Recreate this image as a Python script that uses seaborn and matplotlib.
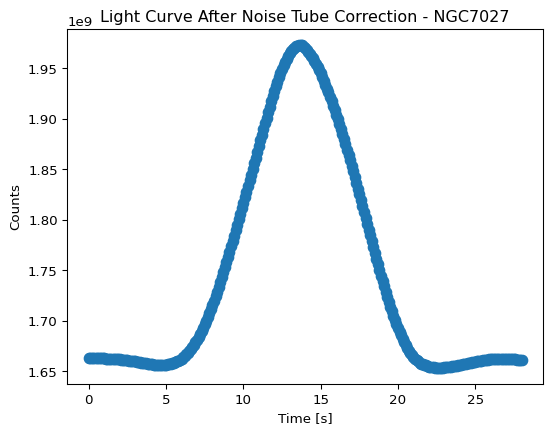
import numpy as np
import seaborn as sns
import matplotlib.pyplot as plt
import pandas as pd

# counts, one sample every 0.1 s (units of 1e9)
sample_step_s = 0.1
counts_1e9 = [
    1.6626, 1.6626, 1.6627, 1.6627, 1.6627, 1.6627, 1.6627, 1.6627, 1.6626, 1.6626,
    1.6626, 1.6625, 1.6625, 1.6624, 1.6623, 1.6622, 1.6621, 1.6620, 1.6619, 1.6618,
    1.6616, 1.6615, 1.6613, 1.6611, 1.6609, 1.6607, 1.6605, 1.6603, 1.6601, 1.6598,
    1.6596, 1.6593, 1.6591, 1.6588, 1.6585, 1.6582, 1.6579, 1.6577, 1.6574, 1.6571,
    1.6569, 1.6567, 1.6565, 1.6564, 1.6563, 1.6562, 1.6561, 1.6561, 1.6561, 1.6562,
    1.6564, 1.6566, 1.6569, 1.6573, 1.6577, 1.6582, 1.6589, 1.6597, 1.6605, 1.6615,
    1.6625, 1.6638, 1.6651, 1.6666, 1.6682, 1.6700, 1.6719, 1.6740, 1.6762, 1.6785,
    1.6810, 1.6838, 1.6867, 1.6898, 1.6930, 1.6965, 1.7001, 1.7038, 1.7076, 1.7115,
    1.7155, 1.7198, 1.7242, 1.7287, 1.7333, 1.7380, 1.7429, 1.7478, 1.7528, 1.7579,
    1.7630, 1.7683, 1.7736, 1.7789, 1.7842, 1.7895, 1.7949, 1.8003, 1.8057, 1.8111,
    1.8165, 1.8221, 1.8277, 1.8333, 1.8389, 1.8445, 1.8502, 1.8559, 1.8616, 1.8673,
    1.8730, 1.8787, 1.8843, 1.8899, 1.8955, 1.9010, 1.9064, 1.9118, 1.9171, 1.9223,
    1.9275, 1.9322, 1.9368, 1.9412, 1.9454, 1.9495, 1.9530, 1.9563, 1.9593, 1.9623,
    1.9650, 1.9672, 1.9690, 1.9705, 1.9716, 1.9725, 1.9729, 1.9730, 1.9727, 1.9712,
    1.9700, 1.9684, 1.9665, 1.9645, 1.9623, 1.9600, 1.9573, 1.9545, 1.9515, 1.9483,
    1.9450, 1.9413, 1.9376, 1.9338, 1.9299, 1.9260, 1.9217, 1.9174, 1.9130, 1.9085,
    1.9040, 1.8993, 1.8945, 1.8897, 1.8849, 1.8800, 1.8748, 1.8695, 1.8642, 1.8589,
    1.8535, 1.8478, 1.8421, 1.8364, 1.8307, 1.8250, 1.8192, 1.8134, 1.8076, 1.8018,
    1.7960, 1.7902, 1.7844, 1.7786, 1.7728, 1.7670, 1.7614, 1.7558, 1.7502, 1.7446,
    1.7390, 1.7339, 1.7288, 1.7238, 1.7189, 1.7140, 1.7095, 1.7051, 1.7008, 1.6966,
    1.6925, 1.6889, 1.6854, 1.6820, 1.6787, 1.6755, 1.6728, 1.6702, 1.6679, 1.6658,
    1.6640, 1.6624, 1.6610, 1.6597, 1.6585, 1.6575, 1.6568, 1.6562, 1.6556, 1.6550,
    1.6545, 1.6542, 1.6540, 1.6538, 1.6536, 1.6535, 1.6535, 1.6535, 1.6535, 1.6536,
    1.6537, 1.6538, 1.6540, 1.6542, 1.6544, 1.6546, 1.6549, 1.6551, 1.6554, 1.6557,
    1.6560, 1.6563, 1.6567, 1.6570, 1.6574, 1.6577, 1.6581, 1.6584, 1.6588, 1.6591,
    1.6594, 1.6597, 1.6600, 1.6603, 1.6605, 1.6608, 1.6610, 1.6612, 1.6614, 1.6616,
    1.6618, 1.6619, 1.6620, 1.6621, 1.6622, 1.6622, 1.6623, 1.6623, 1.6623, 1.6622,
    1.6622, 1.6622, 1.6621, 1.6620, 1.6619, 1.6618, 1.6617, 1.6615, 1.6614, 1.6612,
    1.6610,
]

df = pd.DataFrame({
    "time": np.arange(len(counts_1e9)) * sample_step_s,
    "counts": np.array(counts_1e9) * 1e9,
})

fig, ax = plt.subplots(figsize=(6.4, 4.8), dpi=96)
sns.scatterplot(data=df, x="time", y="counts", ax=ax, s=60,
                color="#1f77b4", edgecolor="#1f77b4", linewidth=1)
ax.set_title("Light Curve After Noise Tube Correction - NGC7027")
ax.set_xlabel("Time [s]")
ax.set_ylabel("Counts")
plt.savefig("out.png", dpi=96, bbox_inches="tight")
